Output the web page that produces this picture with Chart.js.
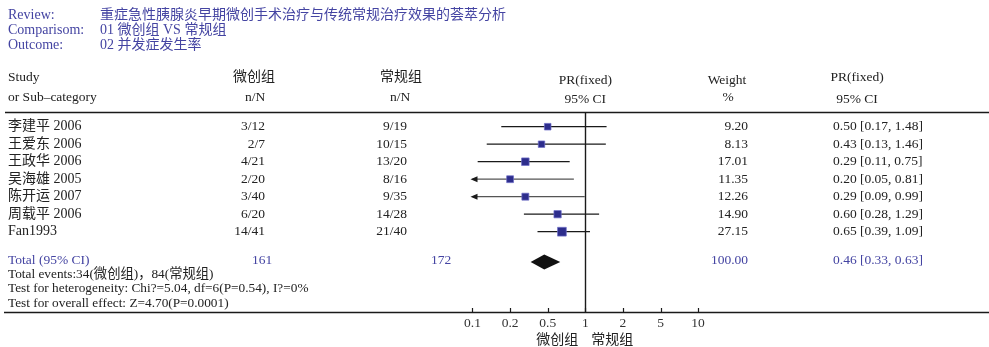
<!DOCTYPE html>
<html>
<head>
<meta charset="utf-8">
<script src="https://cdn.jsdelivr.net/npm/chart.js@4.4.1/dist/chart.umd.min.js"></script>
<style>
  html, body { margin: 0; padding: 0; background: #fff; }
  #forest { display: block; }
</style>
</head>
<body>
<canvas id="forest" width="989" height="347"></canvas>
<script>
/* ---- Data ---- */
const headerLabels = ["Review:", "Comparisom:", "Outcome:"];
const headerValues = ["重症急性胰腺炎早期微创手术治疗与传统常规治疗效果的荟萃分析", "01 微创组 VS 常规组", "02 并发症发生率"];
const studies = ["李建平 2006", "王爱东 2006", "王政华 2006", "吴海雄 2005", "陈开运 2007", "周载平 2006", "Fan1993"];
const eventsMinimal = ["3/12", "2/7", "4/21", "2/20", "3/40", "6/20", "14/41"];
const eventsConventional = ["9/19", "10/15", "13/20", "8/16", "9/35", "14/28", "21/40"];
const weights = [9.20, 8.13, 17.01, 11.35, 12.26, 14.90, 27.15];
const ratios = [0.50, 0.43, 0.29, 0.20, 0.29, 0.60, 0.65];
const ciLow = [0.17, 0.13, 0.11, 0.05, 0.09, 0.28, 0.39];
const ciHigh = [1.48, 1.46, 0.75, 0.81, 0.99, 1.29, 1.09];
const totalN = [161, 172];
const totalWeight = 100.00;
const totalRatio = 0.46;
const totalLow = 0.33;
const totalHigh = 0.63;
const xTickValues = [0.1, 0.2, 0.5, 1, 2, 5, 10];
const footerLines = [
  "Total events:34(微创组)，84(常规组)",
  "Test for heterogeneity: Chi?=5.04, df=6(P=0.54), I?=0%",
  "Test for overall effect: Z=4.70(P=0.0001)"
];

/* ---- Layout constants ---- */
const W = 989, H = 347;
const AREA_TOP = 112, AREA_LEFT = 4, AXIS_H = 35;
const X0_PX = 472.5, X_UNIT = 37.6;       // pixel of 0.1 tick, pixels per tick step
const ROW1_PX = 126.7, ROW_STEP = 17.5;   // pixel of first study row
const TOTAL_ROW = 8.62;

const SERIF = '"Liberation Serif", "Noto Sans CJK SC", serif';
const BLUE = "#4444a2";
const INK = "#222";

// equal spacing between the printed ticks, log inside each step
function toAxis(v){
  if(v <= xTickValues[0]) return 0;
  for(let i = 0; i < xTickValues.length - 1; i++){
    const a = xTickValues[i], b = xTickValues[i + 1];
    if(v <= b) return i + Math.log(v / a) / Math.log(b / a);
  }
  return xTickValues.length - 1;
}

const yMin = (AREA_TOP - (ROW1_PX - ROW_STEP)) / ROW_STEP;
const yMax = (H - AXIS_H - (ROW1_PX - ROW_STEP)) / ROW_STEP;
const xMin = (AREA_LEFT - X0_PX) / X_UNIT;
const xMax = (W - X0_PX) / X_UNIT;

/* ---- Datasets ---- */
const markerData = ratios.map((r, i) => ({ x: toAxis(r), y: i + 1 }));
const ciData = [];
ciLow.forEach((lo, i) => {
  ciData.push({ x: toAxis(lo), y: i + 1, row: i });
  ciData.push({ x: toAxis(ciHigh[i]), y: i + 1, row: i });
  ciData.push({ x: NaN, y: NaN, row: i });   // break between rows
});

/* ---- Text + decorations ---- */
function txt(ctx, s, x, y, align, size, color){
  ctx.font = size + "px " + SERIF;
  ctx.fillStyle = color || INK;
  ctx.textAlign = align || "left";
  ctx.textBaseline = "middle";
  ctx.fillText(s, x, y);
}

function hline(ctx, x0, x1, y){
  ctx.strokeStyle = "#1a1a1a";
  ctx.lineWidth = 1.5;
  ctx.beginPath();
  ctx.moveTo(x0, y);
  ctx.lineTo(x1, y);
  ctx.stroke();
}

const forestPlugin = {
  id: "forestText",
  beforeDatasetsDraw(chart){
    const { ctx, chartArea, scales: { x } } = chart;
    const x1 = Math.round(x.getPixelForValue(toAxis(1))) + 0.5;
    ctx.save();
    ctx.strokeStyle = "#1a1a1a";
    ctx.lineWidth = 1.4;
    ctx.beginPath();
    ctx.moveTo(x1, chartArea.top);
    ctx.lineTo(x1, chartArea.bottom);
    ctx.stroke();
    ctx.restore();
  },
  afterDraw(chart){
    const { ctx, chartArea, scales: { x, y } } = chart;
    ctx.save();

    // title block
    headerLabels.forEach((s, i) => {
      txt(ctx, s, 8, 15 + i * 15, "left", 14, BLUE);
      txt(ctx, headerValues[i], 100, 15 + i * 15, "left", 14, BLUE);
    });

    // column heads
    const xc = x.getPixelForValue(toAxis(1));
    txt(ctx, "Study", 8, 77, "left", 13.5);
    txt(ctx, "or Sub\u2013category", 8, 97, "left", 13.5);
    txt(ctx, "微创组", 254, 77, "center", 14);
    txt(ctx, "n/N", 255, 97, "center", 13.5);
    txt(ctx, "常规组", 401, 77, "center", 14);
    txt(ctx, "n/N", 400, 97, "center", 13.5);
    txt(ctx, "PR(fixed)", xc, 80, "center", 13.5);
    txt(ctx, "95% CI", xc, 99, "center", 13.5);
    txt(ctx, "Weight", 727, 80, "center", 13.5);
    txt(ctx, "%", 728, 97, "center", 13.5);
    txt(ctx, "PR(fixed)", 857, 77, "center", 13.5);
    txt(ctx, "95% CI", 857, 99, "center", 13.5);

    // header rule and axis rule, both full width
    hline(ctx, 5, W, chartArea.top + 0.5);
    hline(ctx, 4, W, chartArea.bottom + 0.5);

    // study rows
    studies.forEach((s, i) => {
      const py = y.getPixelForValue(i + 1);
      txt(ctx, s, 8, py, "left", 14);
      txt(ctx, eventsMinimal[i], 265, py, "right", 13.5);
      txt(ctx, eventsConventional[i], 407, py, "right", 13.5);
      txt(ctx, weights[i].toFixed(2), 748, py, "right", 13.5);
      txt(ctx, ratios[i].toFixed(2) + " [" + ciLow[i].toFixed(2) + ", " + ciHigh[i].toFixed(2) + "]", 833, py, "left", 13.5);

      // arrow where the interval runs off the left of the axis
      if(ciLow[i] < xTickValues[0]){
        const ax = x.getPixelForValue(0);
        ctx.fillStyle = "#1a1a1a";
        ctx.beginPath();
        ctx.moveTo(ax - 2, py);
        ctx.lineTo(ax + 5, py - 3);
        ctx.lineTo(ax + 5, py + 3);
        ctx.closePath();
        ctx.fill();
      }
    });

    // total row
    const ty = y.getPixelForValue(TOTAL_ROW);
    txt(ctx, "Total (95% CI)", 8, ty, "left", 13.5, BLUE);
    txt(ctx, String(totalN[0]), 262, ty, "center", 13.5, BLUE);
    txt(ctx, String(totalN[1]), 441, ty, "center", 13.5, BLUE);
    txt(ctx, totalWeight.toFixed(2), 748, ty, "right", 13.5, BLUE);
    txt(ctx, totalRatio.toFixed(2) + " [" + totalLow.toFixed(2) + ", " + totalHigh.toFixed(2) + "]", 833, ty, "left", 13.5, BLUE);

    const dy = ty + 2;
    ctx.fillStyle = "#111";
    ctx.beginPath();
    ctx.moveTo(x.getPixelForValue(toAxis(totalLow)), dy);
    ctx.lineTo(x.getPixelForValue(toAxis(totalRatio)), dy - 7.5);
    ctx.lineTo(x.getPixelForValue(toAxis(totalHigh)), dy);
    ctx.lineTo(x.getPixelForValue(toAxis(totalRatio)), dy + 7.5);
    ctx.closePath();
    ctx.fill();

    footerLines.forEach((s, i) => txt(ctx, s, 8, ty + 14 + i * 14.5, "left", 13.3));

    // upward tick marks on the axis
    ctx.strokeStyle = "#1a1a1a";
    ctx.lineWidth = 1.2;
    xTickValues.forEach((_, i) => {
      const px = Math.round(x.getPixelForValue(i)) + 0.5;
      ctx.beginPath();
      ctx.moveTo(px, chartArea.bottom);
      ctx.lineTo(px, chartArea.bottom - 4);
      ctx.stroke();
    });

    // favours caption
    txt(ctx, "微创组", xc - 7, 340, "right", 14);
    txt(ctx, "常规组", xc + 6, 340, "left", 14);

    ctx.restore();
  }
};

/* ---- Chart ---- */
new Chart(document.getElementById("forest"), {
  type: "scatter",
  data: {
    datasets: [
      {
        label: "PR",
        data: markerData,
        order: 0,
        pointStyle: "rect",
        pointRadius: ctx => (5.5 + 0.12 * weights[ctx.dataIndex]) / Math.SQRT2,
        backgroundColor: "#2d2d8c",
        borderColor: "rgba(110,110,200,0.7)",
        borderWidth: 1
      },
      {
        type: "line",
        label: "95% CI",
        data: ciData,
        order: 1,
        showLine: true,
        spanGaps: false,
        pointRadius: 0,
        borderWidth: 1.3,
        borderColor: "#1a1a1a",
        segment: {
          borderColor: c => (ciLow[c.p0.raw.row] < xTickValues[0]) ? "#555" : "#1a1a1a"
        }
      }
    ]
  },
  options: {
    responsive: false,
    animation: false,
    events: [],
    layout: { autoPadding: false, padding: { top: AREA_TOP, left: AREA_LEFT, right: 0, bottom: 0 } },
    plugins: { legend: { display: false }, tooltip: { enabled: false } },
    scales: {
      x: {
        type: "linear",
        min: xMin,
        max: xMax,
        afterBuildTicks: scale => { scale.ticks = xTickValues.map((_, i) => ({ value: i })); },
        afterFit: scale => { scale.height = AXIS_H; },
        ticks: {
          autoSkip: false,
          maxRotation: 0,
          padding: 3,
          color: "#333",
          font: { family: SERIF, size: 13.5 },
          callback: (v, i) => String(xTickValues[i])
        },
        grid: { display: false, drawTicks: false },
        border: { display: false }
      },
      y: {
        type: "linear",
        display: false,
        reverse: true,
        min: yMin,
        max: yMax
      }
    }
  },
  plugins: [forestPlugin]
});
</script>
</body>
</html>
